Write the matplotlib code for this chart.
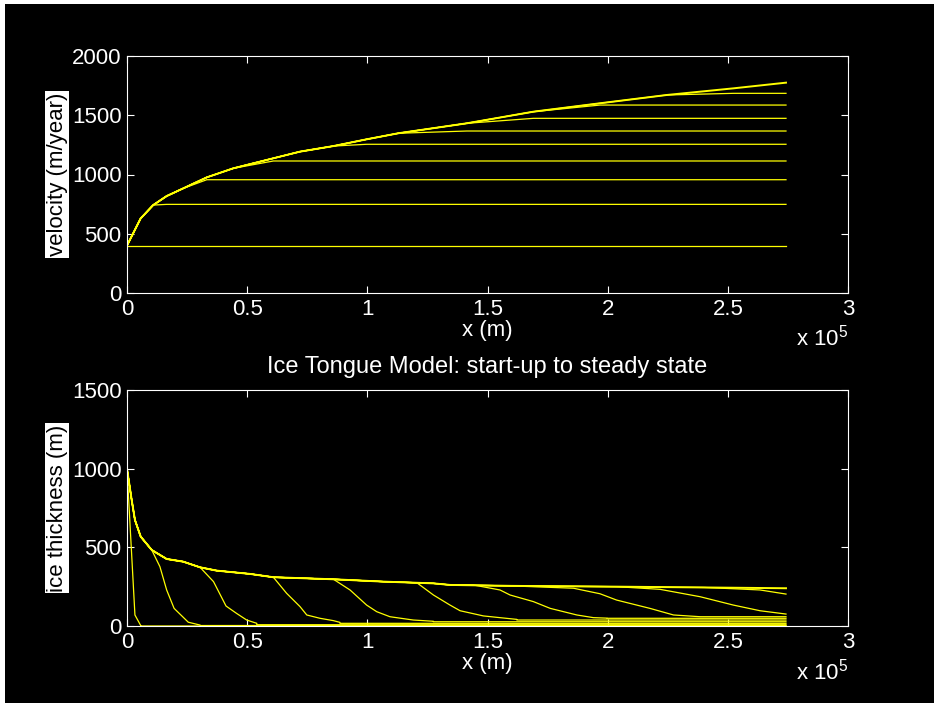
import numpy as np
import matplotlib
matplotlib.use("Agg")
from matplotlib import pyplot as plt
from matplotlib.patches import Rectangle
from matplotlib.ticker import FuncFormatter

plt.rcParams["font.family"] = ["Liberation Sans", "DejaVu Sans"]
plt.rcParams["mathtext.default"] = "regular"

# steady state velocity profile along the tongue (x in m, v in m/year)
x_vel = [0, 5700, 10900, 16500, 23400, 33200, 44200, 60900, 72000, 85900,
         99700, 112900, 141400, 169100, 196800, 224600, 252300, 274200]
v_steady = [400, 630, 742, 818, 883, 976, 1052, 1137, 1193, 1240,
            1297, 1348, 1432, 1530, 1601, 1671, 1727, 1775]

# velocity reached by the front at each earlier output time
v_levels = [400, 748, 956, 1114, 1255, 1367, 1474, 1586, 1685]

# steady state ice thickness (m)
x_thk = [0, 1950, 3300, 5700, 10300, 16500, 23400, 30400, 37300, 51200,
         60900, 85900, 106700, 127500, 134400, 160000, 203700, 240000, 274200]
h_steady = [1000, 801, 674, 568, 483, 426, 409, 373, 352, 331,
            310, 297, 282, 271, 261, 255, 250, 245, 240]

# thickness ahead of the advancing front for each output time
front_x = [
    [0, 3300, 5700],
    [10300, 13700, 16500, 19600, 25500, 30400],
    [30400, 36000, 41200, 45600, 49800, 54000],
    [60900, 66400, 72000, 74800, 80300, 85900, 88600],
    [85900, 92800, 99700, 103900, 109400, 119100, 127500],
    [120600, 127500, 134400, 138600, 148300, 155200, 162200],
    [144000, 155200, 159400, 169100, 176100, 187200, 194100, 199700],
    [185800, 196800, 203700, 217600, 227400, 238500],
    [221800, 238500, 252300, 263400, 274200],
    [255100, 263400, 274200],
]
front_h = [
    [1000, 70, 3],
    [483, 377, 229, 112, 24, 6],
    [373, 282, 127, 80, 38, 17],
    [310, 208, 123, 70, 49, 34, 23],
    [297, 229, 133, 91, 59, 38, 30],
    [275, 197, 133, 97, 64, 53, 42],
    [261, 229, 197, 155, 112, 70, 53, 50],
    [240, 205, 165, 112, 70, 59],
    [233, 186, 133, 97, 76],
    [235, 229, 203],
]
# thin layer left far from the front
tail_h = [0, 3, 8, 17, 27, 38, 49, 59, None, None]

x_end = 274200
yellow = "#ffff00"

fig = plt.figure(figsize=(9.34, 7.03), dpi=100, facecolor="white")
fig.patches.append(Rectangle((5 / 934, 0), 1, 1 - 4 / 703, transform=fig.transFigure,
                             facecolor="black", edgecolor="none", zorder=-10))

ax1 = fig.add_axes([127 / 934, 1 - 293 / 703, 721 / 934, 237 / 703])
ax2 = fig.add_axes([127 / 934, 1 - 626 / 703, 721 / 934, 236 / 703])

# velocity: each profile follows the steady curve until it reaches its level
xv = np.array(x_vel)
vs = np.array(v_steady)
for level in v_levels:
    ax1.plot(xv, np.minimum(vs, level), color=yellow, lw=0.9)
ax1.plot(xv, vs, color=yellow, lw=1.4)

# thickness: steady curve up to the front, then the front and the thin tail
xt = np.array(x_thk)
ht = np.array(h_steady)
for fx, fh, tail in zip(front_x, front_h, tail_h):
    keep = xt < fx[0]
    xs = list(xt[keep]) + fx
    hs = list(ht[keep]) + fh
    if tail is not None:
        xs += [fx[-1], x_end]
        hs += [tail, tail]
    ax2.plot(xs, hs, color=yellow, lw=0.9)
ax2.plot(xt, ht, color=yellow, lw=1.4)

fs = 16
fmt = FuncFormatter(lambda v, _: f"{v / 1e5:g}")
for ax, ymax, ylab in [(ax1, 2000, "velocity (m/year)"), (ax2, 1500, "ice thickness (m)")]:
    ax.set_facecolor("black")
    ax.set_xlim(0, 3e5)
    ax.set_ylim(0, ymax)
    ax.set_xticks(np.arange(0, 3.01e5, 0.5e5))
    ax.set_yticks(np.arange(0, ymax + 1, 500))
    ax.xaxis.set_major_formatter(fmt)
    ax.tick_params(direction="in", length=5, width=0.8, colors="white",
                   labelsize=fs, pad=4, top=True, right=True)
    for sp in ax.spines.values():
        sp.set_color("white")
        sp.set_linewidth(0.8)
    ax.set_xlabel("x (m)", color="white", fontsize=fs, labelpad=0)
    ax.text(-0.097, 0.5, ylab, transform=ax.transAxes, rotation=90,
            ha="center", va="center", fontsize=fs, color="black",
            bbox=dict(facecolor="white", edgecolor="none", pad=1))

ax1.text(1.0, -0.222, "x 10$^5$", transform=ax1.transAxes, ha="right",
         va="baseline", fontsize=fs, color="white")
ax2.text(1.0, -0.2276, "x 10$^5$", transform=ax2.transAxes, ha="right",
         va="baseline", fontsize=fs, color="white")

ax2.set_title("Ice Tongue Model: start-up to steady state", color="white",
              fontsize=17, pad=12)

fig.savefig("out.png", dpi=100, facecolor=fig.get_facecolor())
